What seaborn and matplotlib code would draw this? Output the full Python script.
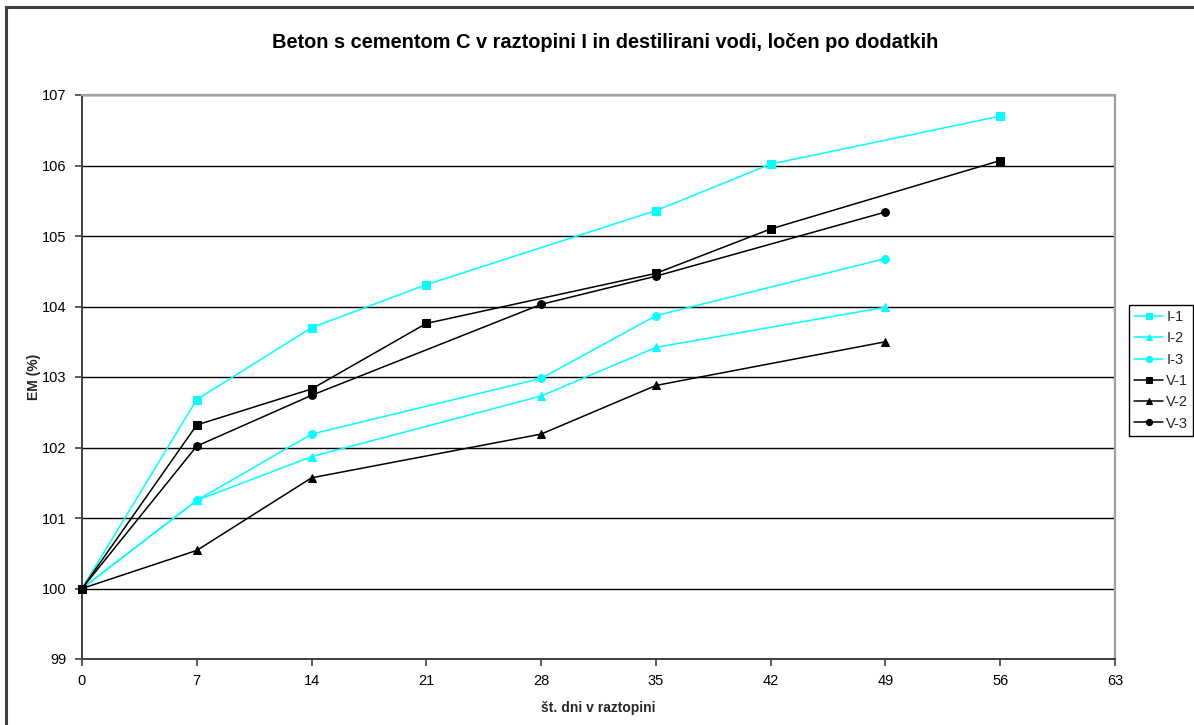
import matplotlib
matplotlib.use("Agg")
import matplotlib.pyplot as plt
from matplotlib.patches import Rectangle
import seaborn as sns
import pandas as pd

sns.set_theme(style="white")
plt.rcParams["font.family"] = ["Liberation Sans", "DejaVu Sans"]

# Measurement days
days_long = [0, 7, 14, 21, 35, 42, 56]
days_short = [0, 7, 14, 28, 35, 49]

# EM (%) per mixture
i1 = [100, 102.68, 103.70, 104.31, 105.36, 106.02, 106.70]
i2 = [100, 101.25, 101.87, 102.73, 103.42, 103.99]
i3 = [100, 101.25, 102.19, 102.98, 103.87, 104.68]
v1 = [100, 102.32, 102.83, 103.76, 104.47, 105.10, 106.07]
v2 = [100, 100.54, 101.57, 102.19, 102.88, 103.50]
v3 = [100, 102.02, 102.74, 104.03, 104.43, 105.34]

series_names = ["I-1", "I-2", "I-3", "V-1", "V-2", "V-3"]
x_ticks = [0, 7, 14, 21, 28, 35, 42, 49, 56, 63]
y_ticks = [99, 100, 101, 102, 103, 104, 105, 106, 107]

title = "Beton s cementom C v raztopini I in destilirani vodi, ločen po dodatkih"
x_label = "št. dni v raztopini"
y_label = "EM (%)"

series = [
    ("I-1", days_long, i1, "#00FFFF", "s", 5.6),
    ("I-2", days_short, i2, "#00FFFF", "^", 6.0),
    ("I-3", days_short, i3, "#00FFFF", "o", 5.6),
    ("V-1", days_long, v1, "#000000", "s", 5.6),
    ("V-2", days_short, v2, "#000000", "^", 6.0),
    ("V-3", days_short, v3, "#000000", "o", 5.6),
]

W, H = 1194, 725
fig = plt.figure(figsize=(W / 100, H / 100), dpi=100)
fig.patch.set_facecolor("white")

# outer chart frame
fig.patches.append(Rectangle((6 / W, -0.05), 1.1, 1 - 7 / H + 0.05,
                             transform=fig.transFigure, fill=False,
                             edgecolor="#404040", linewidth=2.2, zorder=0))

left, right, top, bottom = 82, 1115, 95, 659
ax = fig.add_axes([left / W, 1 - bottom / H, (right - left) / W, (bottom - top) / H])
ax.set_facecolor("white")

for name, xs, ys, color, marker, msize in series:
    df = pd.DataFrame({"day": xs, "em": ys})
    sns.lineplot(data=df, x="day", y="em", ax=ax, color=color, marker=marker,
                 markersize=msize, markeredgecolor=color,
                 linewidth=1.1, label=name, clip_on=False, zorder=3)

ax.set_xlim(0, 63)
ax.set_ylim(99, 107)
ax.set_xticks(x_ticks)
ax.set_yticks(y_ticks)
ax.set_xticklabels([str(t) for t in x_ticks], fontsize=10.5)
ax.set_yticklabels([str(t) for t in y_ticks], fontsize=10.5)

ax.grid(axis="y", color="#000000", linewidth=1.0)
ax.grid(axis="x", visible=False)
ax.set_axisbelow(True)

for side in ["left", "bottom"]:
    ax.spines[side].set_color("#404040")
    ax.spines[side].set_linewidth(1.4)
for side in ["right", "top"]:
    ax.spines[side].set_visible(True)
    ax.spines[side].set_color("#a0a0a0")
    ax.spines[side].set_linewidth(1.6)

ax.tick_params(axis="both", which="major", direction="out", length=5, width=1.2,
               color="#404040", labelcolor="black", pad=6,
               left=True, bottom=True)

ax.set_xlabel(x_label, fontsize=10, fontweight="bold", labelpad=9)
ax.set_ylabel(y_label, fontsize=10, fontweight="bold", labelpad=1)

fig.text(605 / W, 1 - 42 / H, title, ha="center", va="center",
         fontsize=14.4, fontweight="bold", color="black")

leg = ax.legend(loc="upper left", bbox_to_anchor=(1129 / W, 1 - 305 / H),
                bbox_transform=fig.transFigure, fontsize=10.5, frameon=True,
                fancybox=False, edgecolor="black", framealpha=1,
                handlelength=2.0, handletextpad=0.2, borderpad=0.35,
                labelspacing=0.5, borderaxespad=0, markerscale=0.8)
leg.get_frame().set_linewidth(1.0)

fig.savefig("out.png", dpi=100)
